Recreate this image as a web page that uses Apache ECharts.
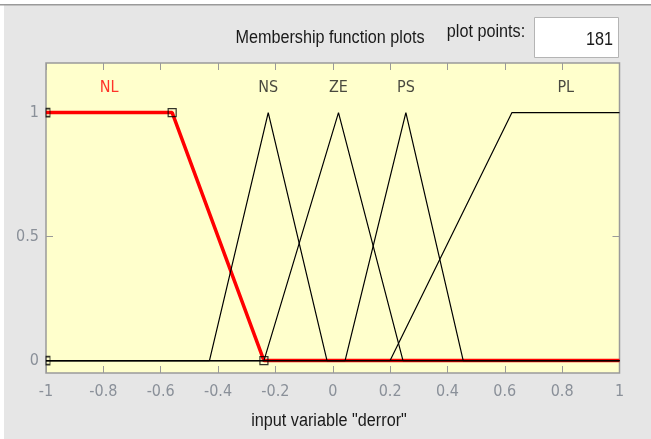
<!DOCTYPE html>
<html>
<head>
<meta charset="utf-8">
<script src="https://cdn.jsdelivr.net/npm/echarts@6/dist/echarts.min.js"></script>
<style>
  html, body { margin: 0; padding: 0; background: #ffffff; }
  #chart { width: 651px; height: 439px; }
</style>
</head>
<body>
<div id="chart"></div>
<script>
// Input variable "derror": range and tick labels
const xRange = [-1, 1];
const yRange = [-0.05, 1.2];
const xTickStep = 0.2;
const yTickValues = [0, 0.5, 1];

// Membership functions (vertices of each piecewise-linear curve)
const mfNames = ['NL', 'NS', 'ZE', 'PS', 'PL'];
const nlParams = [-1, -1, -0.56, -0.24];      // trapezoid (selected, red)
const nsParams = [-0.43, -0.225, -0.02];      // triangle
const zeParams = [-0.24, 0.02, 0.245];        // triangle
const psParams = [0.043, 0.255, 0.455];       // triangle
const plParams = [0.2, 0.625, 1, 1];          // trapezoid
const plotPoints = 181;

const FONT = '"Liberation Sans Narrow", "DejaVu Sans Condensed", "Liberation Sans", sans-serif';
const PANEL_FONT = '"Liberation Sans", Arial, sans-serif';

function trapCurve(p) {
  const pts = [];
  if (p[0] > xRange[0]) pts.push([xRange[0], 0], [p[0], 0]);
  pts.push([Math.max(p[1], xRange[0]), 1]);
  pts.push([Math.min(p[2], xRange[1]), 1]);
  if (p[3] > p[2]) pts.push([p[3], 0]);
  if (p[3] < xRange[1]) pts.push([xRange[1], 0]);
  return pts;
}
function triCurve(p) {
  return [[xRange[0], 0], [p[0], 0], [p[1], 1], [p[2], 0], [xRange[1], 0]];
}

const curves = {
  NL: trapCurve(nlParams),
  NS: triCurve(nsParams),
  ZE: triCurve(zeParams),
  PS: triCurve(psParams),
  PL: trapCurve(plParams)
};
const labelX = {
  NL: (Math.max(nlParams[1], xRange[0]) + nlParams[2]) / 2,
  NS: nsParams[1],
  ZE: zeParams[1],
  PS: psParams[1],
  PL: (plParams[1] + plParams[2]) / 2
};

// Editable vertices of the selected function
const handles = [[nlParams[0], 0], [nlParams[1], 1], [nlParams[2], 1], [nlParams[3], 0]];

const series = [];
// selected function, thick red, drawn first
series.push({
  type: 'line', data: curves.NL, symbol: 'none', silent: true,
  lineStyle: { color: '#ff0000', width: 3.5 }, z: 2
});
// the other functions, thin black
['NS', 'ZE', 'PS', 'PL'].forEach(n => series.push({
  type: 'line', data: curves[n], symbol: 'none', silent: true,
  lineStyle: { color: '#000000', width: 1.2 }, z: 3
}));
// square handles
series.push({
  type: 'scatter', z: 4, silent: true,
  data: handles.map(h => ({
    value: h,
    symbolSize: h[0] <= xRange[0] ? [4, 8] : 8,
    symbolOffset: h[0] <= xRange[0] ? [2, 0] : [0, 0]
  })),
  symbol: 'rect',
  itemStyle: { color: 'rgba(0,0,0,0)', borderColor: '#000000', borderWidth: 1.2 }
});
// function names above each curve
series.push({
  type: 'scatter', z: 5, silent: true, symbolSize: 0,
  data: mfNames.map(n => ({
    value: [labelX[n], 1.1], name: n,
    label: { color: n === 'NL' ? '#ff0000' : '#1a1a1a' }
  })),
  label: {
    show: true, position: 'inside', formatter: p => p.name,
    fontFamily: FONT, fontSize: 16
  }
});

function panelText(x, y, text, align) {
  return {
    type: 'text', x: x, y: y, scaleX: 0.9,
    style: { text: text, fontFamily: PANEL_FONT, fontSize: 18, fill: '#1a1a1a', textAlign: align, textVerticalAlign: 'middle' }
  };
}

const tickStyle = { color: '#9a9a9a' };
const chart = echarts.init(document.getElementById('chart'), null, { renderer: 'canvas' });
chart.setOption({
  animation: false,
  backgroundColor: '#ffffff',
  graphic: [
    { type: 'rect', shape: { x: 4, y: 5, width: 647, height: 434 }, style: { fill: '#e6e6e6' }, z: -10 },
    { type: 'rect', shape: { x: 0, y: 4, width: 651, height: 1.5 }, style: { fill: '#9a9a9a' }, z: -9 },
    panelText(330, 38, 'Membership function plots', 'center'),
    panelText(486, 32, 'plot points:', 'center'),
    { type: 'rect', shape: { x: 534.5, y: 17.5, width: 84, height: 40 }, style: { fill: '#ffffff', stroke: '#b4b4b4', lineWidth: 1 } },
    panelText(613, 40, String(plotPoints), 'right'),
    panelText(329, 421, 'input variable "derror"', 'center')
  ],
  grid: {
    left: 46, right: 31.5, top: 63, bottom: 66,
    show: true, backgroundColor: '#ffffcc', borderColor: '#9a9a9a', borderWidth: 1.5
  },
  xAxis: [
    {
      type: 'value', min: xRange[0], max: xRange[1], interval: xTickStep, position: 'bottom',
      axisLine: { show: false, onZero: false }, splitLine: { show: false },
      axisTick: { inside: true, length: 7, lineStyle: tickStyle },
      axisLabel: { color: '#8a9099', fontFamily: FONT, fontSize: 16, margin: 11 }
    },
    {
      type: 'value', min: xRange[0], max: xRange[1], interval: xTickStep, position: 'top',
      axisLine: { show: false, onZero: false }, splitLine: { show: false },
      axisTick: { inside: true, length: 7, lineStyle: tickStyle },
      axisLabel: { show: false }
    }
  ],
  yAxis: [
    {
      type: 'value', min: yRange[0], max: yRange[1], position: 'left',
      axisLine: { show: false, onZero: false }, splitLine: { show: false },
      axisTick: { inside: true, length: 7, customValues: yTickValues, lineStyle: tickStyle },
      axisLabel: { customValues: yTickValues, color: '#8a9099', fontFamily: FONT, fontSize: 16, margin: 7 }
    },
    {
      type: 'value', min: yRange[0], max: yRange[1], position: 'right',
      axisLine: { show: false, onZero: false }, splitLine: { show: false },
      axisTick: { inside: true, length: 7, customValues: yTickValues, lineStyle: tickStyle },
      axisLabel: { show: false }
    }
  ],
  series: series
});
</script>
</body>
</html>
